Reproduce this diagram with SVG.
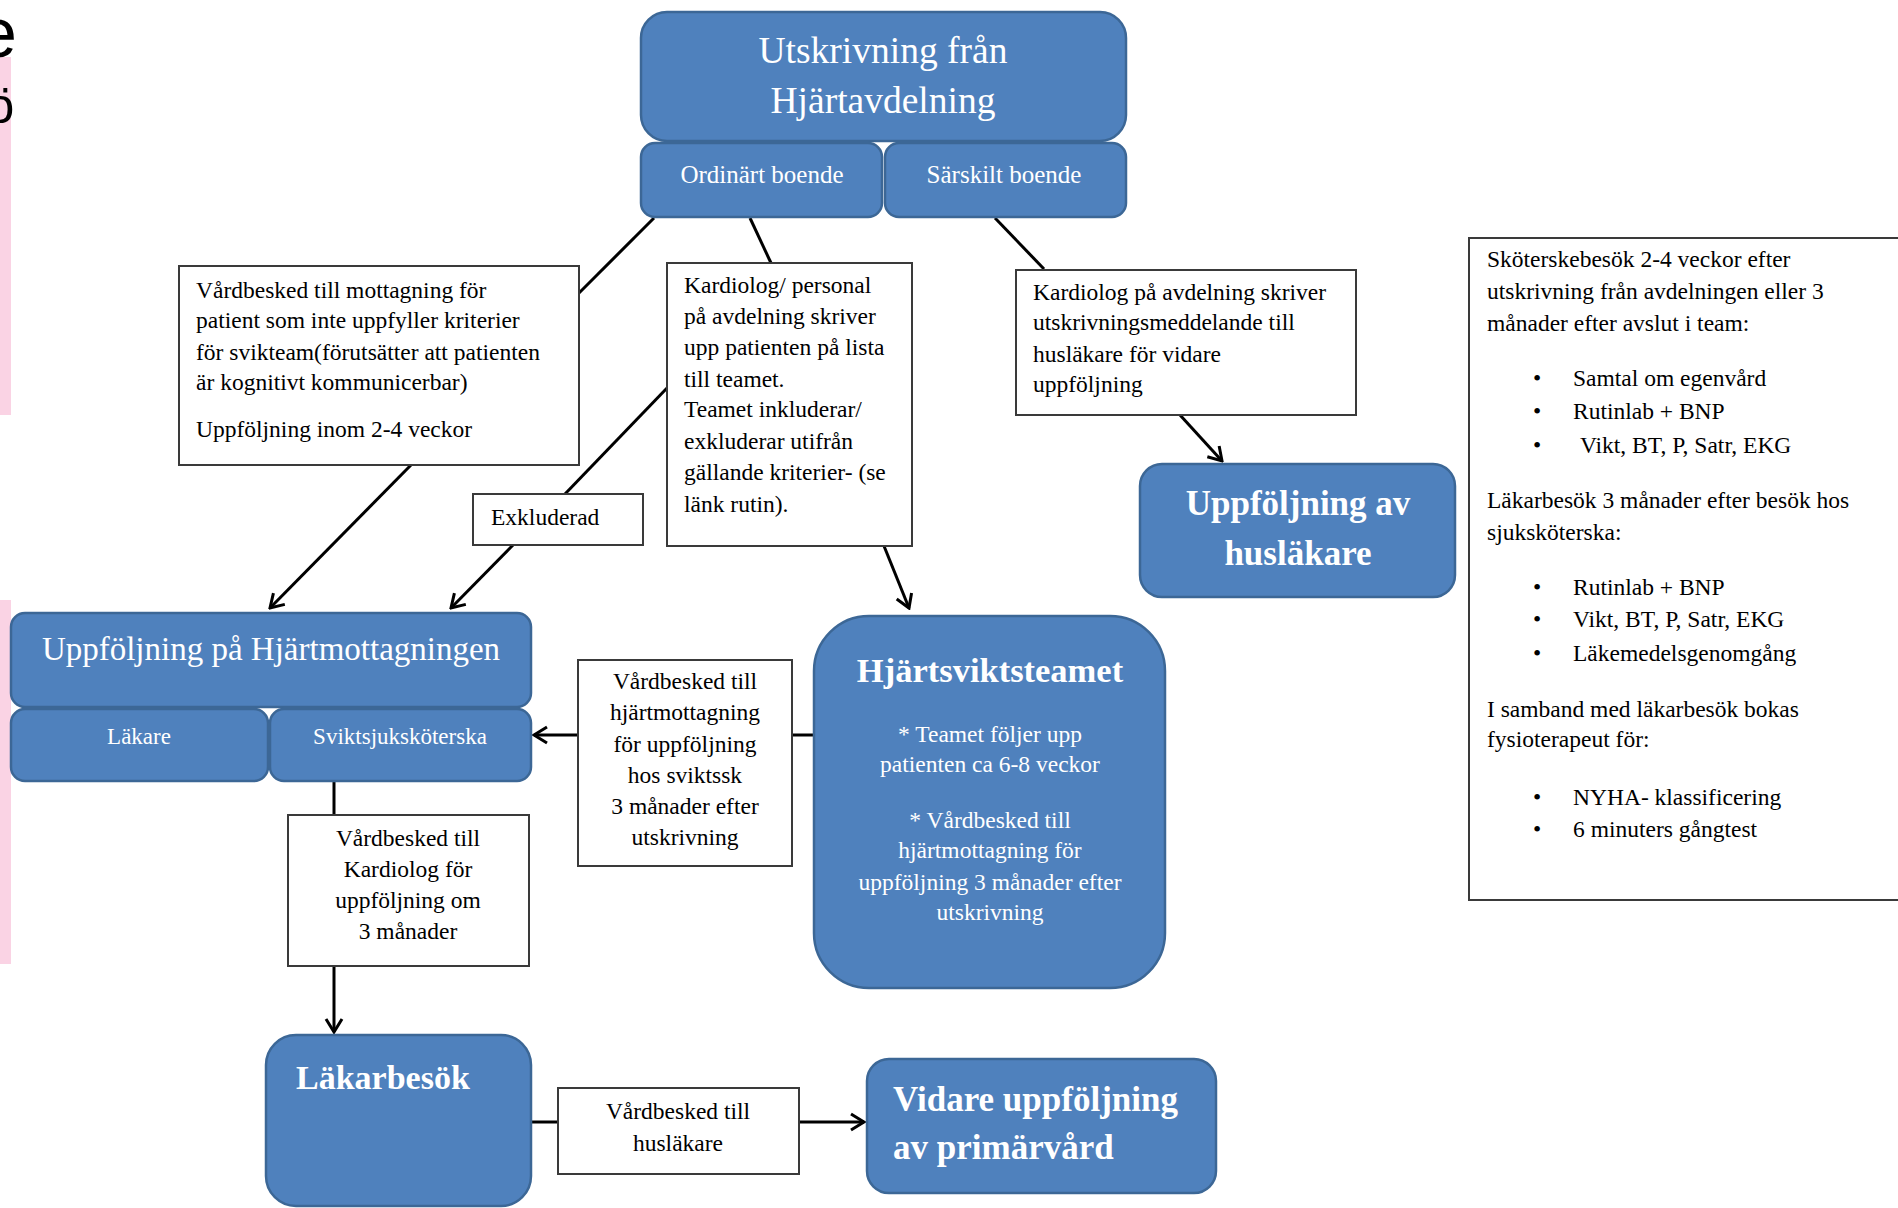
<svg xmlns="http://www.w3.org/2000/svg" width="1898" height="1208" viewBox="0 0 1898 1208">
<style>
.box{fill:#fff;stroke:#3a3a3a;stroke-width:2}
.blue{fill:#4F81BD;stroke:#3C6796;stroke-width:2.5}
.t{font-family:"Liberation Serif","Times New Roman",serif;font-size:23.5px;fill:#000}
.w{fill:#fff}
.c{text-anchor:middle}
.b{font-weight:bold}
.edge{font-family:"Liberation Sans",Arial,sans-serif;fill:#000}
.conn line{stroke:#000;stroke-width:3;fill:none}
</style>
<defs>
<marker id="arr" viewBox="-16 -10 18 20" markerWidth="18" markerHeight="20" refX="0" refY="0" orient="auto" markerUnits="userSpaceOnUse">
<path d="M-13,-8 L0,0 L-13,8" fill="none" stroke="#000" stroke-width="3"/>
</marker>
</defs>
<rect width="1898" height="1208" fill="#fff"/>
<g id="edge">
<rect x="0" y="57" width="11" height="358" fill="#FAD3E4"/>
<rect x="0" y="600" width="11" height="364" fill="#FAD3E4"/>
<text class="edge" x="-22" y="57" style="font-size:70px">e</text>
<text class="edge" x="-13.5" y="123" style="font-size:50px">ö</text>
</g>
<g class="conn" id="connectors">
<line x1="654" y1="218" x2="579" y2="293"/>
<line x1="411" y1="465" x2="270" y2="608" marker-end="url(#arr)"/>
<line x1="750" y1="218" x2="771" y2="263"/>
<line x1="668" y1="387" x2="565" y2="494"/>
<line x1="513" y1="545" x2="451" y2="608" marker-end="url(#arr)"/>
<line x1="884" y1="546" x2="909" y2="608" marker-end="url(#arr)"/>
<line x1="995" y1="218" x2="1044" y2="269"/>
<line x1="1180" y1="415" x2="1222" y2="461" marker-end="url(#arr)"/>
<line x1="578" y1="735" x2="534" y2="735" marker-end="url(#arr)"/>
<line x1="813" y1="735" x2="792" y2="735"/>
<line x1="334" y1="781" x2="334" y2="815"/>
<line x1="334" y1="966" x2="334" y2="1032" marker-end="url(#arr)"/>
<line x1="531" y1="1122" x2="558" y2="1122"/>
<line x1="799" y1="1122" x2="864" y2="1122" marker-end="url(#arr)"/>
</g>
<g id="utskrivning">
<rect class="blue" x="641" y="12" width="485" height="129" rx="26"/>
<text class="t w c" x="883" y="63" style="font-size:37.5px">Utskrivning från</text>
<text class="t w c" x="883" y="113" style="font-size:37.5px">Hjärtavdelning</text>
</g>
<g id="ordinart">
<rect class="blue" x="641" y="143" width="241" height="74" rx="14"/>
<text class="t w c" x="762" y="183" style="font-size:25px">Ordinärt boende</text>
</g>
<g id="sarskilt">
<rect class="blue" x="885" y="143" width="241" height="74" rx="14"/>
<text class="t w c" x="1004" y="183" style="font-size:25px">Särskilt boende</text>
</g>
<g id="vardbesked-mottagning">
<rect class="box" x="179" y="266" width="400" height="199"/>
<text class="t" x="196" y="298">Vårdbesked till mottagning  för</text>
<text class="t" x="196" y="328">patient  som inte  uppfyller kriterier</text>
<text class="t" x="196" y="360">för svikteam(förutsätter att patienten</text>
<text class="t" x="196" y="390">är kognitivt kommunicerbar)</text>
<text class="t" x="196" y="437">Uppföljning inom 2-4 veckor</text>
</g>
<g id="kardiolog-personal">
<rect class="box" x="667" y="263" width="245" height="283"/>
<text class="t" x="684" y="293">Kardiolog/ personal</text>
<text class="t" x="684" y="324">på avdelning skriver</text>
<text class="t" x="684" y="355">upp patienten på lista</text>
<text class="t" x="684" y="387">till teamet.</text>
<text class="t" x="684" y="417">Teamet inkluderar/</text>
<text class="t" x="684" y="449">exkluderar  utifrån</text>
<text class="t" x="684" y="480">gällande kriterier- (se</text>
<text class="t" x="684" y="512">länk rutin).</text>
</g>
<g id="exkluderad">
<rect class="box" x="473" y="494" width="170" height="51"/>
<text class="t" x="491" y="525">Exkluderad</text>
</g>
<g id="kardiolog-avdelning">
<rect class="box" x="1016" y="270" width="340" height="145"/>
<text class="t" x="1033" y="300">Kardiolog på avdelning skriver</text>
<text class="t" x="1033" y="330">utskrivningsmeddelande till</text>
<text class="t" x="1033" y="362">husläkare för vidare</text>
<text class="t" x="1033" y="392">uppföljning</text>
</g>
<g id="uppfoljning-huslakare">
<rect class="blue" x="1140" y="464" width="315" height="133" rx="22"/>
<text class="t w c b" x="1298" y="515" style="font-size:35px">Uppföljning av</text>
<text class="t w c b" x="1298" y="565" style="font-size:35px">husläkare</text>
</g>
<g id="info">
<rect class="box" x="1469" y="238" width="460" height="662"/>
<text class="t" x="1487" y="267">Sköterskebesök 2-4 veckor efter</text>
<text class="t" x="1487" y="299">utskrivning från avdelningen eller 3</text>
<text class="t" x="1487" y="331">månader efter avslut i team:</text>
<text class="t" x="1533" y="386">•</text><text class="t" x="1573" y="386">Samtal om egenvård</text>
<text class="t" x="1533" y="419">•</text><text class="t" x="1573" y="419">Rutinlab + BNP</text>
<text class="t" x="1533" y="453">•</text><text class="t" x="1580" y="453">Vikt, BT, P, Satr, EKG</text>
<text class="t" x="1487" y="508">Läkarbesök 3 månader efter besök hos</text>
<text class="t" x="1487" y="540">sjuksköterska:</text>
<text class="t" x="1533" y="595">•</text><text class="t" x="1573" y="595">Rutinlab + BNP</text>
<text class="t" x="1533" y="627">•</text><text class="t" x="1573" y="627">Vikt, BT, P, Satr, EKG</text>
<text class="t" x="1533" y="661">•</text><text class="t" x="1573" y="661">Läkemedelsgenomgång</text>
<text class="t" x="1487" y="717">I samband med läkarbesök bokas</text>
<text class="t" x="1487" y="747">fysioterapeut för:</text>
<text class="t" x="1533" y="805">•</text><text class="t" x="1573" y="805">NYHA- klassificering</text>
<text class="t" x="1533" y="837">•</text><text class="t" x="1573" y="837">6 minuters gångtest</text>
</g>
<g id="hjartmottagningen">
<rect class="blue" x="11" y="613" width="520" height="94" rx="14"/>
<text class="t w c" x="271" y="660" style="font-size:33px">Uppföljning på Hjärtmottagningen</text>
</g>
<g id="lakare">
<rect class="blue" x="11" y="709" width="257" height="72" rx="14"/>
<text class="t w c" x="139" y="744" style="font-size:23px">Läkare</text>
</g>
<g id="sviktsjukskoterska">
<rect class="blue" x="270" y="709" width="261" height="72" rx="14"/>
<text class="t w c" x="400" y="744" style="font-size:23px">Sviktsjuksköterska</text>
</g>
<g id="vardbesked-hjartmottagning">
<rect class="box" x="578" y="660" width="214" height="206"/>
<text class="t c" x="685" y="689">Vårdbesked till</text>
<text class="t c" x="685" y="720">hjärtmottagning</text>
<text class="t c" x="685" y="752">för uppföljning</text>
<text class="t c" x="685" y="783">hos sviktssk</text>
<text class="t c" x="685" y="814">3 månader efter</text>
<text class="t c" x="685" y="845">utskrivning</text>
</g>
<g id="hjartsviktsteamet">
<rect class="blue" x="814" y="616" width="351" height="372" rx="55"/>
<text class="t w c b" x="990" y="682" style="font-size:34.5px">Hjärtsviktsteamet</text>
<text class="t w c" x="990" y="742">* Teamet följer upp</text>
<text class="t w c" x="990" y="772">patienten ca 6-8 veckor</text>
<text class="t w c" x="990" y="828">* Vårdbesked till</text>
<text class="t w c" x="990" y="858">hjärtmottagning för</text>
<text class="t w c" x="990" y="890">uppföljning 3 månader efter</text>
<text class="t w c" x="990" y="920">utskrivning</text>
</g>
<g id="vardbesked-kardiolog">
<rect class="box" x="288" y="815" width="241" height="151"/>
<text class="t c" x="408" y="846">Vårdbesked till</text>
<text class="t c" x="408" y="877">Kardiolog för</text>
<text class="t c" x="408" y="908">uppföljning om</text>
<text class="t c" x="408" y="939">3 månader</text>
</g>
<g id="lakarbesok">
<rect class="blue" x="266" y="1035" width="265" height="171" rx="30"/>
<text class="t w b" x="296" y="1089" style="font-size:34px">Läkarbesök</text>
</g>
<g id="vardbesked-huslakare">
<rect class="box" x="558" y="1088" width="241" height="86"/>
<text class="t c" x="678" y="1119">Vårdbesked till</text>
<text class="t c" x="678" y="1151">husläkare</text>
</g>
<g id="vidare">
<rect class="blue" x="867" y="1059" width="349" height="134" rx="22"/>
<text class="t w b" x="893" y="1111" style="font-size:35px">Vidare uppföljning</text>
<text class="t w b" x="893" y="1159" style="font-size:35px">av primärvård</text>
</g>
</svg>
